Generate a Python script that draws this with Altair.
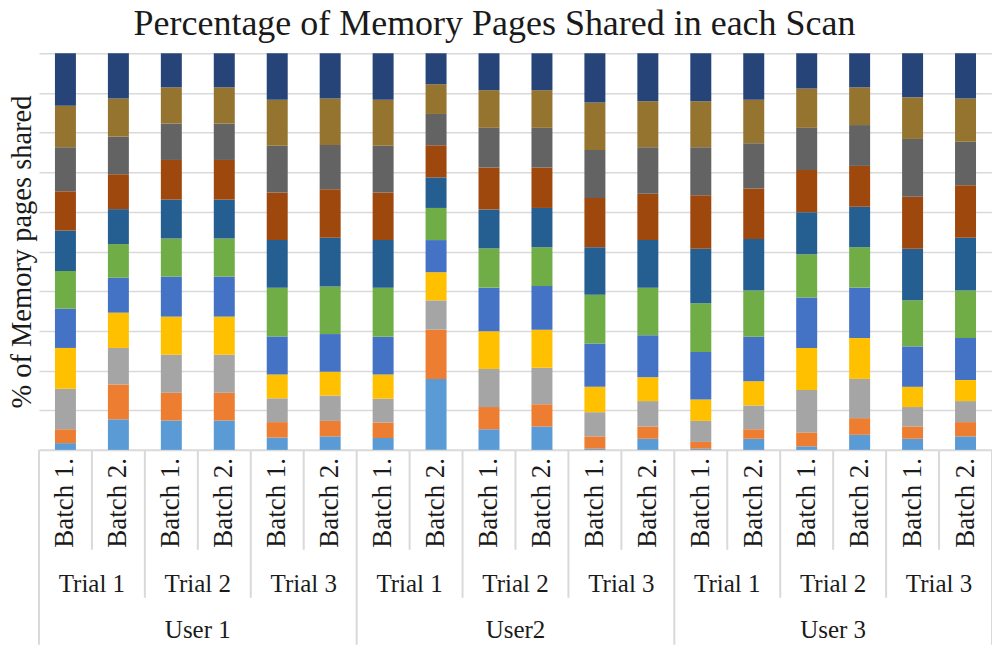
import altair as alt
import pandas as pd

# ---- data ----
users = ["User 1", "User2", "User 3"]
trials = ["Trial 1", "Trial 2", "Trial 3"]
batches = ["Batch 1.", "Batch 2."]

series_names = ["Scan 1", "Scan 2", "Scan 3", "Scan 4", "Scan 5", "Scan 6",
                "Scan 7", "Scan 8", "Scan 9", "Scan 10", "Scan 11"]
series_colors = ["#5B9BD5", "#ED7D31", "#A5A5A5", "#FFC000", "#4472C4", "#70AD47",
                 "#255E91", "#9E480E", "#636363", "#957430", "#264478"]

# percent of pages shared per scan, one value per bar (18 bars: user > trial > batch)
s1 = [1.7, 7.7, 7.4, 7.4, 3.1, 3.4, 3.0, 17.9, 5.2, 5.9, 0.3, 2.8, 0.3, 2.8, 0.9, 3.8, 2.8, 3.4]
s2 = [3.5, 8.8, 7.0, 7.0, 3.9, 3.9, 3.9, 12.4, 5.6, 5.6, 3.1, 3.1, 1.7, 2.4, 3.5, 4.2, 3.1, 3.6]
s3 = [10.2, 9.2, 9.6, 9.6, 6.0, 6.4, 6.0, 7.4, 9.6, 9.2, 6.1, 6.4, 5.3, 6.0, 10.7, 9.9, 4.9, 5.3]
s4 = [10.3, 8.9, 9.6, 9.6, 6.0, 6.0, 6.1, 7.1, 9.5, 9.6, 6.4, 6.0, 5.4, 6.1, 10.6, 10.3, 5.1, 5.3]
s5 = [9.9, 8.8, 10.1, 10.1, 9.6, 9.5, 9.5, 8.1, 11.0, 11.0, 10.9, 10.6, 12.0, 11.2, 12.7, 12.7, 10.2, 10.6]
s6 = [9.5, 8.5, 9.6, 9.6, 12.3, 12.0, 12.4, 8.1, 9.9, 9.8, 12.3, 12.0, 12.3, 11.7, 10.9, 10.2, 11.6, 12.0]
s7 = [10.2, 8.8, 9.8, 9.8, 12.0, 12.3, 12.0, 7.7, 9.8, 9.9, 12.0, 12.0, 13.7, 13.0, 10.6, 10.2, 13.0, 13.3]
s8 = [9.9, 8.8, 10.0, 10.0, 12.0, 12.2, 12.0, 8.1, 10.6, 10.2, 12.4, 11.7, 13.5, 12.7, 10.7, 10.3, 13.1, 13.2]
s9 = [11.1, 9.5, 9.2, 9.2, 11.8, 11.2, 11.8, 7.9, 10.0, 10.0, 12.1, 11.7, 12.1, 11.4, 10.6, 10.3, 14.6, 11.0]
s10 = [10.5, 9.6, 9.1, 9.1, 11.6, 11.7, 11.6, 7.5, 9.5, 9.5, 12.0, 11.6, 11.6, 11.0, 9.9, 9.5, 10.5, 10.9]
s11 = [13.2, 11.4, 8.6, 8.6, 11.7, 11.4, 11.7, 7.8, 9.3, 9.3, 12.4, 12.1, 12.1, 11.7, 8.9, 8.6, 11.1, 11.4]
series_values = [s1, s2, s3, s4, s5, s6, s7, s8, s9, s10, s11]

# ---- tables ----
n_bars = len(s1)
bars = pd.DataFrame({
    "pos": [i + 0.5 for i in range(n_bars)],
    "user": [users[i // 6] for i in range(n_bars)],
    "trial": [trials[(i // 2) % 3] for i in range(n_bars)],
    "batch": [batches[i % 2] for i in range(n_bars)],
})
rows = []
for k, (name, vals) in enumerate(zip(series_names, series_values)):
    for i, v in enumerate(vals):
        rows.append({"pos": i + 0.5, "series": name, "idx": k, "value": v})
long = pd.DataFrame(rows)

trial_df = pd.DataFrame({"pos": [2 * j + 1 for j in range(9)],
                         "label": [trials[j % 3] for j in range(9)]})
user_df = pd.DataFrame({"pos": [6 * j + 3 for j in range(3)], "label": users})
bounds = pd.DataFrame({"pos": list(range(n_bars + 1))})
bounds["level"] = ["user" if k % 6 == 0 else ("trial" if k % 2 == 0 else "batch")
                   for k in bounds["pos"]]

W, H = 954, 397
FONT = "Liberation Serif"
TXT = "#1a1a1a"
GRID = "#D9D9D9"

x_axis = alt.Axis(labels=False, ticks=False, grid=False, domain=True,
                  domainColor=GRID, domainWidth=2, title=None)
x_enc = alt.X("pos:Q", scale=alt.Scale(domain=[0, n_bars], nice=False, zero=False, padding=0),
              axis=x_axis)

bar_layer = alt.Chart(long).transform_stack(
    stack="value", groupby=["pos"], as_=["y0", "y1"],
    sort=[alt.SortField("idx", order="ascending")], offset="normalize"
).mark_bar(width=21, orient="vertical").encode(
    x=x_enc,
    y=alt.Y("y0:Q", scale=alt.Scale(domain=[0, 1], nice=False, padding=0),
            axis=alt.Axis(values=[i / 10 for i in range(11)], labels=False, ticks=False,
                          domain=False, grid=True, gridColor=GRID, gridWidth=1.5,
                          title="% of Memory pages shared", titleFont=FONT,
                          titleFontSize=28.5, titleFontWeight="normal", titleColor=TXT,
                          titleAngle=270, titleAlign="center", titleBaseline="middle",
                          titleX=-17, titleY=H / 2)),
    y2="y1:Q",
    color=alt.Color("series:N", scale=alt.Scale(domain=series_names, range=series_colors),
                    legend=None),
)

rule_user = alt.Chart(bounds).transform_filter(alt.datum.level == "user").mark_rule(
    color=GRID, strokeWidth=2).encode(x=x_enc, y=alt.value(H), y2=alt.value(H + 195))
rule_trial = alt.Chart(bounds).transform_filter(alt.datum.level == "trial").mark_rule(
    color=GRID, strokeWidth=2).encode(x=x_enc, y=alt.value(H), y2=alt.value(H + 148))
rule_batch = alt.Chart(bounds).transform_filter(alt.datum.level == "batch").mark_rule(
    color=GRID, strokeWidth=2).encode(x=x_enc, y=alt.value(H), y2=alt.value(H + 100))

batch_text = alt.Chart(bars).mark_text(
    angle=270, align="left", baseline="middle", font=FONT, fontSize=27, color=TXT
).encode(x=x_enc, y=alt.value(H + 98), text="batch:N")

trial_text = alt.Chart(trial_df).mark_text(
    align="center", baseline="alphabetic", font=FONT, fontSize=25, color=TXT
).encode(x=x_enc, y=alt.value(H + 142), text="label:N")

user_text = alt.Chart(user_df).mark_text(
    align="center", baseline="alphabetic", font=FONT, fontSize=25, color=TXT
).encode(x=x_enc, y=alt.value(H + 188), text="label:N")

chart = alt.layer(
    bar_layer, rule_user, rule_trial, rule_batch, batch_text, trial_text, user_text
).properties(
    width=W, height=H,
    title=alt.TitleParams("Percentage of Memory Pages Shared in each Scan", font=FONT,
                          fontSize=36, fontWeight="normal", color=TXT, anchor="middle",
                          dx=-21, offset=10),
    autosize=alt.AutoSizeParams(type="none"),
    padding={"left": 31, "top": 45, "right": 0, "bottom": 195},
).configure_view(stroke=None)

chart.save("out.html", embed_options={"renderer": "svg", "actions": False})
